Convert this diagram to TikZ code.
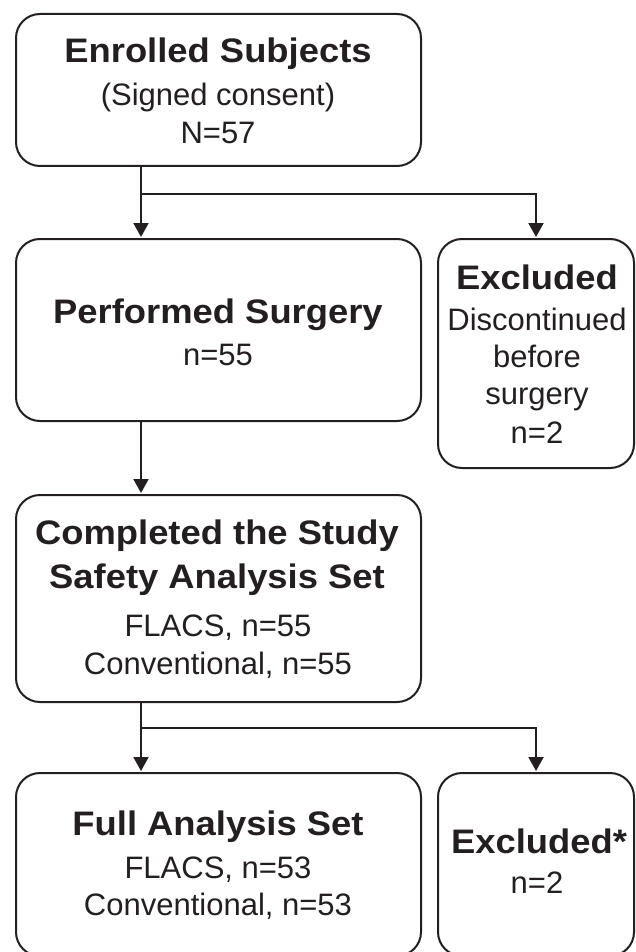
\documentclass[tikz,border=0pt]{standalone}
\usepackage{fontspec}
\setmainfont{Liberation Sans}
\newfontfamily\hdfont{Liberation Sans}[FakeStretch=1.07]
\usetikzlibrary{arrows.meta}
\definecolor{ink}{RGB}{35,31,32}
\begin{document}
\begin{tikzpicture}[x=1pt,y=-1pt,
  box/.style={draw=ink,line width=2pt,rounded corners=24pt,inner sep=0pt,outer sep=0pt},
  hd/.style={anchor=base,inner sep=0pt,text=ink,font=\hdfont\fontsize{34}{40}\selectfont\bfseries},
  tx/.style={anchor=base,inner sep=0pt,text=ink,font=\fontsize{31}{36}\selectfont},
  arr/.style={draw=ink,line width=2pt,-{Triangle[length=14pt,width=15pt]},shorten >=2pt}]
\useasboundingbox (0,0) rectangle (635,952);
% boxes
\node[box,minimum width=405pt,minimum height=152pt] (b1) at (218.5,90) {};
\node[box,minimum width=405pt,minimum height=182pt] (b2) at (218.5,330) {};
\node[box,minimum width=196pt,minimum height=229pt] (ex1) at (536,353.5) {};
\node[box,minimum width=405pt,minimum height=207pt] (b3) at (218.5,598.5) {};
\node[box,minimum width=405pt,minimum height=183pt] (b4) at (218.5,864.5) {};
\node[box,minimum width=196pt,minimum height=183pt] (ex2) at (536,864.5) {};
% texts
\node[hd] (t1a) at (218,63) {Enrolled Subjects};
\node[tx] (t1b) at (218,106) {(Signed consent)};
\node[tx] (t1c) at (218,143.5) {N=57};
\node[hd] (t2a) at (218,323.5) {Performed Surgery};
\node[tx] (t2b) at (218,365) {n=55};
\node[hd] (e1a) at (537,289) {Excluded};
\node[tx] (e1b) at (537,330) {Discontinued};
\node[tx] (e1c) at (537,367) {before};
\node[tx] (e1d) at (537,404) {surgery};
\node[tx] (e1e) at (537,443) {n=2};
\node[hd] (t3a) at (217,544) {Completed the Study};
\node[hd] (t3b) at (217,588) {Safety Analysis Set};
\node[tx] (t3c) at (218,636) {FLACS, n=55};
\node[tx] (t3d) at (218,674) {Conventional, n=55};
\node[hd] (t4a) at (218,835) {Full Analysis Set};
\node[tx] (t4b) at (218,878) {FLACS, n=53};
\node[tx] (t4c) at (218,915) {Conventional, n=53};
\node[hd] (e2a) at (539,853) {Excluded*};
\node[tx] (e2b) at (537,893) {n=2};
% connectors
\coordinate (j1) at (141,194);
\coordinate (j2) at (141,728);
\draw[arr] (b1.south -| j1) -- (b2.north -| j1);
\draw[arr] (j1) -| (ex1.north);
\draw[arr] (b2.south -| j1) -- (b3.north -| j1);
\draw[arr] (b3.south -| j2) -- (b4.north -| j2);
\draw[arr] (j2) -| (ex2.north);
\end{tikzpicture}
\end{document}
